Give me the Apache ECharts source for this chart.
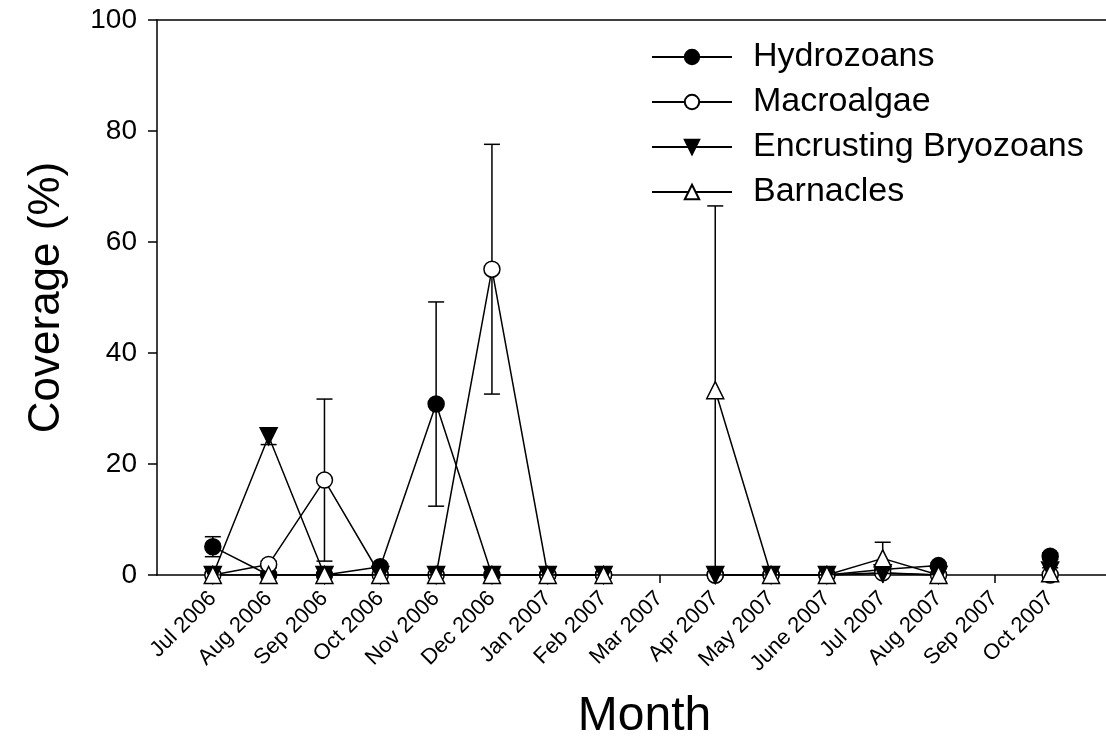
<!DOCTYPE html>
<html>
<head>
<meta charset="utf-8">
<script src="https://cdn.jsdelivr.net/npm/echarts@6/dist/echarts.min.js"></script>
<style>
html,body{margin:0;padding:0;background:#fff;}
#chart{width:1106px;height:754px;}
</style>
</head>
<body>
<div id="chart"></div>
<script>
const months = ['Jul 2006','Aug 2006','Sep 2006','Oct 2006','Nov 2006','Dec 2006','Jan 2007','Feb 2007','Mar 2007','Apr 2007','May 2007','June 2007','Jul 2007','Aug 2007','Sep 2007','Oct 2007'];
const yTicks = [0, 20, 40, 60, 80, 100];

const hydrozoans    = [5.1, 0, 0, 1.5, 30.8, 0, 0, 0, null, 0, 0, 0, 1.0, 1.7, null, 3.4];
const hydrozoansErr = [1.8, 0, 0, 0.5, 18.4, 0, 0, 0, null, 0, 0, 0, 0.5, 0.5, null, 0.6];
const macroalgae    = [0, 1.9, 17.1, 0, 0, 55.1, 0, 0, null, 0, 0, 0, 0.4, 0, null, 0];
const macroalgaeErr = [0, 0.6, 14.6, 0, 0, 22.5, 0, 0, null, 0, 0, 0, 0.3, 0, null, 0];
const bryozoans     = [0, 25.0, 0, 0, 0, 0, 0, 0, null, 0, 0, 0, 0.3, 0, null, 0.8];
const bryozoansErr  = [0, 1.5, 0, 0, 0, 0, 0, 0, null, 0, 0, 0, 0.2, 0, null, 0.5];
const barnacles     = [0, 0, 0, 0, 0, 0, 0, 0, null, 33.3, 0, 0, 3.0, 0, null, 0.3];
const barnaclesErr  = [0, 0, 0, 0, 0, 0, 0, 0, null, 33.2, 0, 0, 2.9, 0, null, 0];

const FONT = "'Liberation Sans', Arial, Helvetica, sans-serif";

function lineData(vals) {
  return vals.map((v, i) => v === null ? [i, '-'] : [i, v]);
}
function errData(vals, errs) {
  const out = [];
  vals.forEach((v, i) => {
    if (v !== null && errs[i] > 0) out.push([i, v, errs[i]]);
  });
  return out;
}
function errRender(params, api) {
  const x = api.value(0), y = api.value(1), e = api.value(2);
  const top = api.coord([x, y + e]);
  const bot = api.coord([x, Math.max(0, y - e)]);
  const hw = 8;
  const st = { stroke: '#000', lineWidth: 1.5 };
  return {
    type: 'group',
    children: [
      { type: 'line', shape: { x1: top[0], y1: top[1], x2: bot[0], y2: bot[1] }, style: st },
      { type: 'line', shape: { x1: top[0] - hw, y1: top[1], x2: top[0] + hw, y2: top[1] }, style: st },
      { type: 'line', shape: { x1: bot[0] - hw, y1: bot[1], x2: bot[0] + hw, y2: bot[1] }, style: st }
    ]
  };
}

const defs = [
  { name: 'Hydrozoans', vals: hydrozoans, errs: hydrozoansErr, symbol: 'circle', fill: '#000', rot: 0 },
  { name: 'Macroalgae', vals: macroalgae, errs: macroalgaeErr, symbol: 'circle', fill: '#fff', rot: 0 },
  { name: 'Encrusting Bryozoans', vals: bryozoans, errs: bryozoansErr, symbol: 'triangle', fill: '#000', rot: 180 },
  { name: 'Barnacles', vals: barnacles, errs: barnaclesErr, symbol: 'triangle', fill: '#fff', rot: 0 }
];

const series = [];
defs.forEach((d) => {
  series.push({
    type: 'custom',
    name: d.name + ' err',
    renderItem: errRender,
    data: errData(d.vals, d.errs),
    z: 1,
    silent: true
  });
});
defs.forEach((d, k) => {
  series.push({
    type: 'line',
    name: d.name,
    data: lineData(d.vals),
    connectNulls: false,
    symbol: d.symbol,
    symbolSize: d.symbol === 'circle' ? 16 : 17,
    symbolRotate: d.rot,
    showAllSymbol: true,
    lineStyle: { color: '#000', width: 1.5 },
    itemStyle: { color: d.fill, borderColor: '#000', borderWidth: 1.5 },
    z: 3 + k,
    animation: false
  });
});

const chart = echarts.init(document.getElementById('chart'), null, { renderer: 'canvas' });
chart.setOption({
  animation: false,
  backgroundColor: '#fff',
  textStyle: { fontFamily: FONT },
  grid: { left: 157, top: 20, width: 952, height: 555, show: false },
  legend: {
    orient: 'vertical',
    left: 646,
    top: 32,
    itemWidth: 80,
    itemHeight: 18,
    itemGap: 5,
    data: defs.map(d => d.name),
    textStyle: { fontFamily: FONT, fontSize: 34, color: '#000', lineHeight: 40, padding: [0, 0, 0, 16] }
  },
  xAxis: [{
    type: 'value',
    min: -1,
    max: 16,
    interval: 1,
    name: 'Month',
    nameLocation: 'middle',
    nameGap: 118,
    nameTextStyle: { fontFamily: FONT, fontSize: 48, color: '#000', padding: [0, 0, 0, 26] },
    axisLine: { show: true, onZero: false, lineStyle: { color: '#000', width: 1.5 } },
    axisTick: { show: true, length: 8, lineStyle: { color: '#000', width: 1.5 } },
    axisLabel: {
      rotate: 45,
      margin: 20,
      fontSize: 22,
      color: '#000',
      fontFamily: FONT,
      showMinLabel: false,
      showMaxLabel: false,
      formatter: v => (months[v] !== undefined ? months[v] : '')
    },
    splitLine: { show: false }
  }, {
    type: 'value',
    position: 'top',
    min: -1,
    max: 16,
    interval: 1,
    axisLine: { show: true, onZero: false, lineStyle: { color: '#000', width: 1.5 } },
    axisTick: { show: false },
    axisLabel: { show: false },
    splitLine: { show: false }
  }],
  yAxis: {
    type: 'value',
    min: yTicks[0],
    max: yTicks[yTicks.length - 1],
    interval: 20,
    name: 'Coverage (%)',
    nameLocation: 'middle',
    nameGap: 88,
    nameTextStyle: { fontFamily: FONT, fontSize: 44, color: '#000' },
    axisLine: { show: true, onZero: false, lineStyle: { color: '#000', width: 1.5 } },
    axisTick: { show: true, length: 9, lineStyle: { color: '#000', width: 1.5 } },
    axisLabel: { fontSize: 28, color: '#000', margin: 20, fontFamily: FONT },
    splitLine: { show: false }
  },
  series: series
});
</script>
</body>
</html>
